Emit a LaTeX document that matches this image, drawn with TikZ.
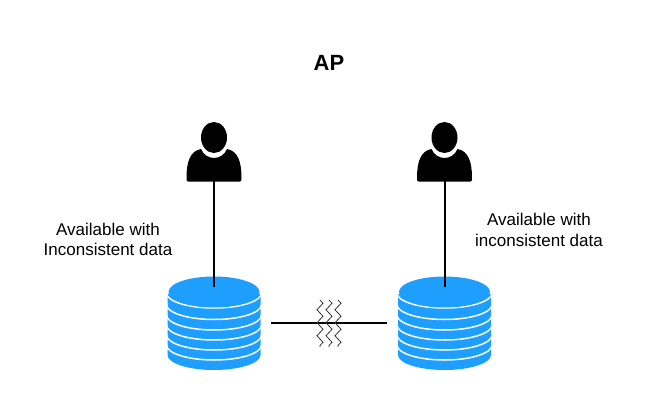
\documentclass[tikz,border=0pt]{standalone}
\usepackage{fontspec}
\setmainfont{Liberation Sans}
\usetikzlibrary{positioning,decorations.pathmorphing}
\definecolor{myblue}{RGB}{30,158,255}

\begin{document}
\begin{tikzpicture}[x=1pt,y=-1pt,
    every node/.style={inner sep=0pt,align=center},
    labelnode/.style={font=\fontsize{17}{20.5}\selectfont},
    link/.style={draw=black,line width=2pt},
    squiggle/.style={draw=black!80,line width=0.8pt,decorate,
      decoration={zigzag,segment length=13pt,amplitude=3pt}},
    rim/.style={draw=white,line width=1.5pt}
  ]
  \useasboundingbox (0,0) rectangle (655,409);

  % the title
  \node[font=\fontsize{22}{26}\selectfont\bfseries] (title) at (329,63) {AP};

  % the users and the databases
  \foreach \name/\x in {L/214,R/444.5} {
    \begin{scope}[shift={(\x,0)}]
      \fill (-26,181.5) -- (26,181.5) .. controls (27.5,181.5) and (27.5,180) .. (27.5,178)
        .. controls (27.5,162) and (24,151) .. (13,149)
        .. controls (8,161) and (-8,161) .. (-13,149)
        .. controls (-24,151) and (-27.5,162) .. (-27.5,178)
        .. controls (-27.5,180) and (-27.5,181.5) .. (-26,181.5) -- cycle;
      \fill (0,137.5) ellipse (13 and 15.5);
      \coordinate (user\name) at (0,181);
      \coordinate (db\name) at (0,287);
      % the stack and the rims of its disks
      \fill[myblue] (-46.5,294) -- (-46.5,355) arc[start angle=180,end angle=0,x radius=46.5,y radius=15]
        -- (46.5,294) -- cycle;
      \foreach \y in {345,335,325,315,304.5}
        \draw[rim] (-47.5,\y) arc[start angle=180,end angle=0,x radius=47.5,y radius=15];
      \draw[rim] (-47.5,292) -- (-47.5,293) arc[start angle=180,end angle=0,x radius=47.5,y radius=15] -- (47.5,292);
      \fill[myblue] (0,292) ellipse (45.5 and 15.5);
    \end{scope}
  }

  % the labels
  \node[labelnode] (labelL) at (108,239.5) {Available with\\Inconsistent data};
  \node[labelnode] (labelR) at (539,230) {Available with\\inconsistent data};

  % the edges
  \draw[link] (userL) -- (dbL);
  \draw[link] (userR) -- (dbR);
  \coordinate (linkL) at (271,323);
  \coordinate (linkR) at (387,323);
  \draw[link] (linkL) -- (linkR);

  % the broken link
  \foreach \x in {320,329,338} {
    \coordinate (top\x) at (\x,300);
    \coordinate (bot\x) at (\x,347);
    \draw[squiggle] (top\x) -- (bot\x);
  }
\end{tikzpicture}
\end{document}
